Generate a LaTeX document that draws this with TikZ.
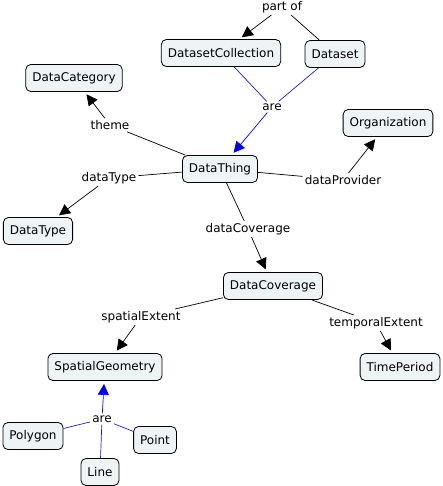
\documentclass[tikz,border=0pt]{standalone}
\usepackage{fontspec}
\setmainfont{DejaVu Sans}
\usetikzlibrary{arrows.meta}
\definecolor{boxfill}{RGB}{238,243,245}
\definecolor{isblue}{RGB}{30,30,200}
\begin{document}
\begin{tikzpicture}[x=1pt,y=-1pt,
  concept/.style={draw=black,line width=0.8pt,fill=boxfill,rounded corners=5pt,
    minimum height=27pt,inner xsep=6.5pt,inner ysep=0pt,font=\fontsize{12}{14}\selectfont},
  lab/.style={inner sep=2pt,font=\fontsize{12}{14}\selectfont},
  link/.style={draw=black,line width=0.7pt},
  arr/.style={link,-{Triangle[length=11pt,width=11pt]},shorten >=3pt},
  islink/.style={draw=isblue,line width=0.7pt},
  isarr/.style={islink,-{Triangle[length=11pt,width=11pt]},draw=blue,shorten >=3pt}]
\useasboundingbox (0,0) rectangle (443,486);
\fill[white] (0,0) rectangle (443,486);
% concepts
\node[concept] (dc)   at (221,53)  {DatasetCollection};
\node[concept] (ds)   at (335,54)  {Dataset};
\node[concept] (cat)  at (74,78)   {DataCategory};
\node[concept] (org)  at (388,123) {Organization};
\node[concept] (dt)   at (220,169) {DataThing};
\node[concept] (dty)  at (38,231)  {DataType};
\node[concept] (cov)  at (273,286) {DataCoverage};
\node[concept] (sg)   at (105,367) {SpatialGeometry};
\node[concept] (tp)   at (400,367) {TimePeriod};
\node[concept] (poly) at (33,436)  {Polygon};
\node[concept] (pt)   at (155,440) {Point};
\node[concept] (line) at (100,472) {Line};
% labels
\node[lab] (partof) at (282,7)   {part of};
\node[lab] (are1)   at (272,107) {are};
\node[lab] (theme)  at (110,125) {theme};
\node[lab] (dtype)  at (109,178) {dataType};
\node[lab] (dprov)  at (343,180) {dataProvider};
\node[lab] (dcov)   at (248,229) {dataCoverage};
\node[lab] (spat)   at (141,317) {spatialExtent};
\node[lab] (temp)   at (376,323) {temporalExtent};
\node[lab] (are2)   at (102,419) {are};
% connectors
\draw[link] (ds) -- (partof);
\draw[arr]  (partof) -- (dc);
\draw[islink] (dc) -- (are1);
\draw[islink] (ds) -- (are1);
\draw[isarr]  (are1) -- (dt);
\draw[link] (dt) -- (theme);
\draw[arr]  (theme) -- (cat);
\draw[link] (dt) -- (dtype);
\draw[arr]  (dtype) -- (dty);
\draw[link] (dt) -- (dprov);
\draw[arr]  (dprov) -- (org);
\draw[link] (dt) -- (dcov);
\draw[arr]  (dcov) -- (cov);
\draw[link] (cov) -- (spat);
\draw[arr]  (spat) -- (sg);
\draw[link] (cov) -- (temp);
\draw[arr]  (temp) -- (tp);
\draw[islink] (poly) -- (are2);
\draw[islink] (pt) -- (are2);
\draw[islink] (line) -- (are2);
\draw[isarr]  (are2) -- (sg);
\end{tikzpicture}
\end{document}
